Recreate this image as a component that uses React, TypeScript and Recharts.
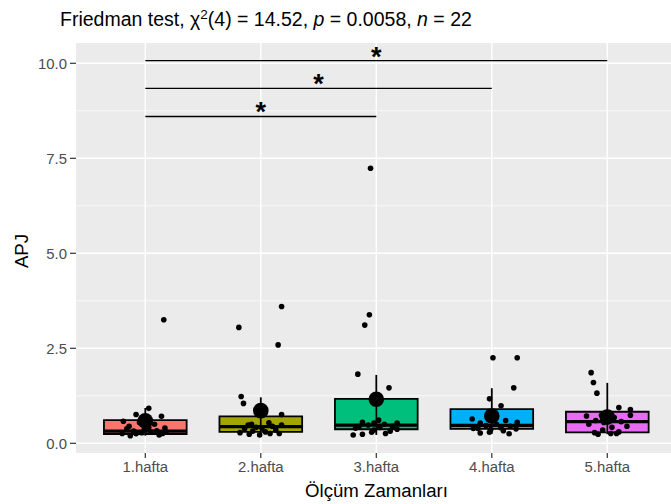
import React from 'react';
import {
  ComposedChart, XAxis, YAxis, Scatter, ReferenceArea, ReferenceLine,
} from 'recharts';

// ---------- data ----------
const CATEGORIES = ['1.hafta', '2.hafta', '3.hafta', '4.hafta', '5.hafta'];
const BOX_FILLS = ['#F8766D', '#A3A500', '#00BF7D', '#00B0F6', '#E76BF3'];

const Q1 = [0.245, 0.30, 0.37, 0.38, 0.29];
const MEDIAN = [0.32, 0.44, 0.48, 0.47, 0.57];
const Q3 = [0.61, 0.71, 1.17, 0.90, 0.83];
const WHISKER_LOW = [0.20, 0.22, 0.22, 0.25, 0.24];
const WHISKER_HIGH = [0.93, 1.21, 1.80, 1.45, 1.59];
const MEANS = [0.59, 0.86, 1.16, 0.72, 0.69];

const Y_TICKS = [0, 2.5, 5, 7.5, 10];
const Y_MINOR = [1.25, 3.75, 6.25, 8.75];

// jittered observations: [horizontal jitter (category units), value]
const WEEK1: [number, number][] = [
  [0.16, 3.25], [0.03, 0.92], [-0.08, 0.76], [0.14, 0.71], [-0.19, 0.58], [-0.05, 0.55],
  [0.08, 0.5], [-0.14, 0.45], [0.03, 0.42], [0.17, 0.4], [-0.16, 0.38], [-0.01, 0.35],
  [0.1, 0.33], [-0.1, 0.32], [0.18, 0.3], [0.05, 0.3], [-0.03, 0.28], [-0.2, 0.26],
  [0.15, 0.26], [-0.08, 0.25], [0.12, 0.22], [-0.13, 0.2],
];
const WEEK2: [number, number][] = [
  [0.18, 3.6], [-0.19, 3.05], [0.15, 2.59], [-0.17, 1.23], [-0.15, 1.05], [0.18, 0.76],
  [0.07, 0.54], [-0.08, 0.5], [-0.11, 0.48], [0.18, 0.48], [0.1, 0.45], [-0.04, 0.42],
  [0.01, 0.4], [-0.14, 0.38], [0.13, 0.35], [-0.07, 0.32], [0.04, 0.3], [-0.18, 0.28],
  [0.08, 0.26], [0.16, 0.26], [-0.1, 0.24], [-0.01, 0.22],
];
const WEEK3: [number, number][] = [
  [-0.05, 7.24], [-0.06, 3.38], [-0.1, 3.11], [-0.16, 1.82], [0.11, 1.46], [0.02, 0.61],
  [-0.12, 0.55], [-0.02, 0.53], [0.18, 0.53], [0.07, 0.5], [-0.07, 0.48], [0.14, 0.45],
  [-0.15, 0.44], [0.03, 0.42], [-0.18, 0.4], [0.18, 0.37], [-0.02, 0.35], [0.12, 0.32],
  [-0.04, 0.29], [0.08, 0.26], [-0.12, 0.24], [-0.2, 0.22],
];
const WEEK4: [number, number][] = [
  [0.01, 2.25], [0.22, 2.25], [0.19, 1.46], [-0.02, 1.17], [0.08, 0.99], [-0.17, 0.64],
  [0.12, 0.6], [0.22, 0.55], [-0.1, 0.53], [0.04, 0.5], [-0.05, 0.47], [0.16, 0.45],
  [-0.14, 0.43], [0.08, 0.41], [-0.16, 0.39], [-0.12, 0.39], [0.21, 0.38], [-0.01, 0.36],
  [0.1, 0.33], [-0.02, 0.29], [-0.1, 0.27], [0.15, 0.25],
];
const WEEK5: [number, number][] = [
  [-0.14, 1.86], [-0.12, 1.6], [-0.09, 1.32], [0.1, 0.94], [0.2, 0.89], [0.2, 0.74],
  [-0.05, 0.74], [-0.18, 0.72], [0.06, 0.68], [0.02, 0.66], [-0.1, 0.6], [0.12, 0.57],
  [-0.03, 0.55], [-0.16, 0.5], [0.17, 0.45], [0.04, 0.42], [-0.04, 0.35], [0.1, 0.3],
  [-0.11, 0.28], [0.03, 0.26], [0.08, 0.26], [-0.08, 0.24],
];
const WEEKS = [WEEK1, WEEK2, WEEK3, WEEK4, WEEK5];

// pairwise comparisons (category positions 1..5)
const BRACKETS = [
  { from: 1, to: 3, y: 8.6, label: '*' },
  { from: 1, to: 4, y: 9.34, label: '*' },
  { from: 1, to: 5, y: 10.07, label: '*' },
];

// ---------- derived tables ----------
const jitterPoints = WEEKS.flatMap((w, i) => w.map(([dx, v]) => ({ x: i + 1 + dx, y: v })));
const meanPoints = MEANS.map((m, i) => ({ x: i + 1, y: m }));
const starPoints = BRACKETS.map((b) => ({ x: (b.from + b.to) / 2, y: b.y, label: b.label }));

const FONT = '"Liberation Sans", Arial, sans-serif';
const BOX_HALF = 0.358;
const X_DOMAIN: [number, number] = [0.4, 5.5515];
const Y_DOMAIN: [number, number] = [-0.255, 10.534];

const Dot = (r: number) => (props: any) => (
  <circle cx={props.cx} cy={props.cy} r={r} fill="#000" />
);

const Star = (props: any) => (
  <text x={props.cx} y={props.cy + 5} textAnchor="middle" fontSize={27} fontWeight="bold"
    fontFamily={FONT} fill="#000">{props.payload.label}</text>
);

export default function App() {
  return (
    <div style={{ position: 'absolute', left: 0, top: 0, width: 671, height: 504, background: '#fff' }}>
      <ComposedChart width={671} height={504} margin={{ top: 43, right: 0, bottom: 0, left: 0 }}>
        <XAxis type="number" dataKey="x" domain={X_DOMAIN} allowDataOverflow
          ticks={[1, 2, 3, 4, 5]} tickFormatter={(v: number) => CATEGORIES[v - 1]}
          height={51} axisLine={false} tickSize={5} tickMargin={3}
          tickLine={{ stroke: '#333333', strokeWidth: 1.2 }}
          tick={{ fill: '#4D4D4D', fontSize: 14.9, fontFamily: FONT }} interval={0} />
        <YAxis type="number" dataKey="y" domain={Y_DOMAIN} allowDataOverflow
          ticks={Y_TICKS} tickFormatter={(v: number) => v.toFixed(1)}
          width={76} axisLine={false} tickSize={6} tickMargin={3}
          tickLine={{ stroke: '#333333', strokeWidth: 1.2 }}
          tick={{ fill: '#4D4D4D', fontSize: 14.9, fontFamily: FONT }} interval={0} />

        <ReferenceArea x1={X_DOMAIN[0]} x2={X_DOMAIN[1]} y1={Y_DOMAIN[0]} y2={Y_DOMAIN[1]}
          fill="#EBEBEB" fillOpacity={1} stroke="none" ifOverflow="visible" />
        {Y_MINOR.map((v) => (
          <ReferenceLine key={'mn' + v} y={v} stroke="#FFFFFF" strokeWidth={0.7} ifOverflow="visible" />
        ))}
        {Y_TICKS.map((v) => (
          <ReferenceLine key={'mj' + v} y={v} stroke="#FFFFFF" strokeWidth={1.4} ifOverflow="visible" />
        ))}
        {CATEGORIES.map((c, i) => (
          <ReferenceLine key={'vx' + c} x={i + 1} stroke="#FFFFFF" strokeWidth={1.4} ifOverflow="visible" />
        ))}

        {CATEGORIES.map((c, i) => (
          <ReferenceLine key={'wh' + c} segment={[{ x: i + 1, y: WHISKER_LOW[i] }, { x: i + 1, y: WHISKER_HIGH[i] }]}
            stroke="#000" strokeWidth={1.8} ifOverflow="visible" />
        ))}
        {CATEGORIES.map((c, i) => (
          <ReferenceArea key={'bx' + c} x1={i + 1 - BOX_HALF} x2={i + 1 + BOX_HALF} y1={Q1[i]} y2={Q3[i]}
            fill={BOX_FILLS[i]} fillOpacity={1} stroke="#000" strokeWidth={1.8} ifOverflow="visible" />
        ))}
        {CATEGORIES.map((c, i) => (
          <ReferenceLine key={'md' + c} segment={[{ x: i + 1 - BOX_HALF, y: MEDIAN[i] }, { x: i + 1 + BOX_HALF, y: MEDIAN[i] }]}
            stroke="#000" strokeWidth={3.2} ifOverflow="visible" />
        ))}

        <Scatter data={jitterPoints} shape={Dot(2.8)} isAnimationActive={false} />
        <Scatter data={meanPoints} shape={Dot(7.8)} isAnimationActive={false} />

        {BRACKETS.map((b) => (
          <ReferenceLine key={'br' + b.to} segment={[{ x: b.from, y: b.y }, { x: b.to, y: b.y }]}
            stroke="#000" strokeWidth={1.3} ifOverflow="visible" />
        ))}
        <Scatter data={starPoints} shape={Star} isAnimationActive={false} />
      </ComposedChart>

      <svg width={671} height={504} style={{ position: 'absolute', left: 0, top: 0, pointerEvents: 'none' }}>
        <text x={60} y={26} fontSize={19.5} fontFamily={FONT} fill="#000" style={{ whiteSpace: 'pre' }}>
          Friedman test, χ<tspan dy={-7.5} fontSize={13.5}>2</tspan><tspan dy={7.5}>(4) = 14.52, </tspan>
          <tspan fontStyle="italic">p</tspan><tspan> = 0.0058, </tspan>
          <tspan fontStyle="italic">n</tspan><tspan> = 22</tspan>
        </text>
        <text x={376.5} y={497} textAnchor="middle" fontSize={18.65} fontFamily={FONT} fill="#000">
          Ölçüm Zamanları
        </text>
        <text transform="translate(28, 251) rotate(-90)" textAnchor="middle" fontSize={18.65}
          fontFamily={FONT} fill="#000">APJ</text>
      </svg>
    </div>
  );
}
